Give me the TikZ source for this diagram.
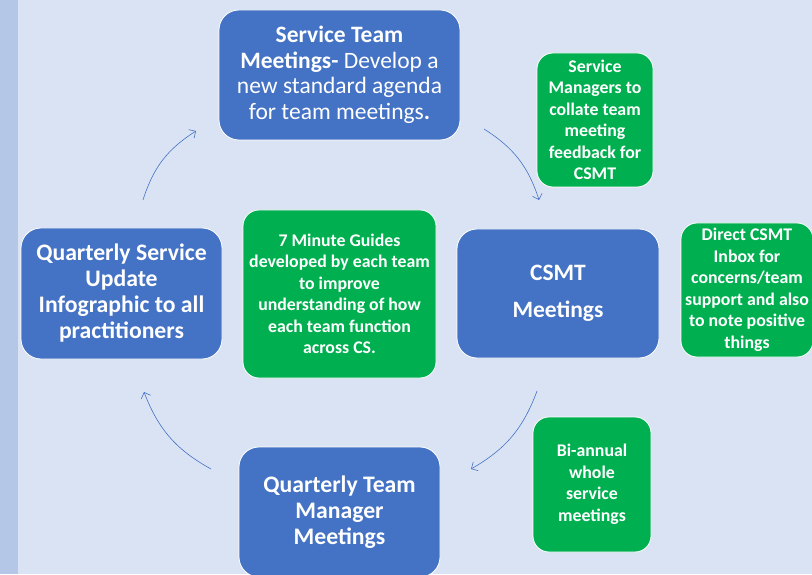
\documentclass[tikz,border=0pt]{standalone}
\usepackage{fontspec}
\setmainfont{Carlito}
\usetikzlibrary{arrows.meta}

\definecolor{boxblue}{HTML}{4472C4}
\definecolor{boxgreen}{HTML}{00B050}
\definecolor{bgblue}{HTML}{DAE3F3}
\definecolor{stripblue}{HTML}{B4C7E7}

\tikzset{
  bluebox/.style={draw=white, line width=0.8pt, fill=boxblue, rounded corners=20pt,
    text=white, align=center, inner sep=0pt},
  greenbox/.style={draw=white, line width=0.8pt, fill=boxgreen, rounded corners=16pt,
    text=white, align=center, inner sep=0pt, font=\bfseries\fontsize{17.8}{21.5}\selectfont},
  cyc/.style={draw=boxblue, line width=0.6pt, -{Straight Barb[length=5pt,width=10pt]}, bend left=20}
}

\begin{document}
\begin{tikzpicture}[x=1pt, y=1pt]

    % Background
    \useasboundingbox (0,0) rectangle (812,574);
    \fill[bgblue] (0,0) rectangle (812,574);
    \fill[stripblue] (0,0) rectangle (18,574);

    % Define nodes
    \node[bluebox, minimum width=241pt, minimum height=130pt, font=\fontsize{23.5}{25.5}\selectfont]
      (stm) at (339.5,499) {\textbf{Service Team}\\ \textbf{Meetings-} Develop a\\ new standard agenda\\ for team meetings\textbf{.}};
    \node[bluebox, minimum width=202pt, minimum height=129pt, font=\bfseries\fontsize{23.5}{37}\selectfont]
      (csmt) at (558,280.5) {CSMT\\ Meetings};
    \node[bluebox, minimum width=201pt, minimum height=131pt, font=\bfseries\fontsize{23.7}{26}\selectfont]
      (qsu) at (121.5,280.5) {Quarterly Service\\ Update\\ Infographic to all\\ practitioners};
    \node[bluebox, minimum width=201pt, minimum height=130pt, font=\bfseries\fontsize{23.7}{26}\selectfont]
      (qtm) at (339.5,62) {Quarterly Team\\ Manager\\ Meetings};

    \node[greenbox, minimum width=116pt, minimum height=134pt]
      (smg) at (595,454) {Service\\ Managers to\\ collate team\\ meeting\\ feedback for\\ CSMT};
    \node[greenbox, minimum width=132pt, minimum height=134pt]
      (inbox) at (747,284) {Direct CSMT\\ Inbox for\\ concerns/team\\ support and also\\ to note positive\\ things};
    \node[greenbox, minimum width=193pt, minimum height=168pt]
      (guides) at (339.5,280) {7 Minute Guides\\ developed by each team\\ to improve\\ understanding of how\\ each team function\\ across CS.};
    \node[greenbox, minimum width=118pt, minimum height=135pt]
      (bia) at (592,89.5) {Bi-annual\\ whole\\ service\\ meetings};

    % Arrow ends
    \coordinate (qsuout) at (143,374);
    \coordinate (stmin) at (196,443);
    \coordinate (stmout) at (484,445);
    \coordinate (csmtin) at (539,374);
    \coordinate (csmtout) at (537,183);
    \coordinate (qtmin) at (471,105);
    \coordinate (qtmout) at (211,105);
    \coordinate (qsuin) at (144,182);

    % Connect the nodes
    \draw[cyc] (qsuout) to (stmin);
    \draw[cyc] (stmout) to (csmtin);
    \draw[cyc] (csmtout) to (qtmin);
    \draw[cyc] (qtmout) to (qsuin);

\end{tikzpicture}
\end{document}
